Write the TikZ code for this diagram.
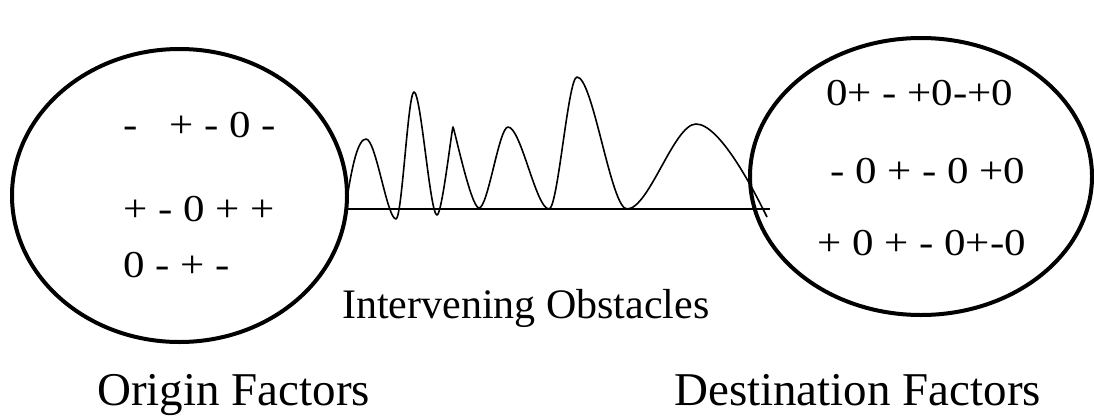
\documentclass[tikz,border=0pt]{standalone}
\usepackage{fontspec}
\setmainfont{Liberation Serif}
\newfontfamily\symfont{Liberation Serif}
\begin{document}
\begin{tikzpicture}[x=1pt,y=-1pt,
  oval/.style={draw=black,line width=4pt},
  wave/.style={draw=black,line width=1.6pt,line join=round},
  base/.style={draw=black,line width=1.6pt},
  inner/.style={anchor=base west,inner sep=0pt,font=\fontsize{38}{40}\selectfont},
  biglabel/.style={anchor=base west,inner sep=0pt,font=\fontsize{47}{50}\selectfont},
  midlabel/.style={anchor=base west,inner sep=0pt,font=\fontsize{42}{45}\selectfont}]
\useasboundingbox (0,0) rectangle (1094,418);
% ellipses
\draw[oval] (179.5,195.5) ellipse [x radius=167.5, y radius=146.5];
\draw[oval] (921,176.5) ellipse [x radius=171, y radius=138.5];
% baseline
\coordinate (bl) at (347,209);
\coordinate (br) at (770,209);
\draw[base] (bl) -- (br);
% wave
\coordinate (w0) at (346,205);
\coordinate (p1) at (366,139);
\coordinate (t1) at (396,219);
\coordinate (p2) at (414,92);
\coordinate (t2) at (437,215);
\coordinate (p3) at (453,127);
\coordinate (t3) at (479,208);
\coordinate (p4) at (508,127);
\coordinate (t4) at (549,209);
\coordinate (p5) at (577,77);
\coordinate (t5) at (627,209);
\coordinate (p6) at (696,124);
\coordinate (w1) at (767,217);
\draw[wave] (w0) .. controls +(6,-40) and +(-8,0) .. (p1)
  .. controls +(10,0) and +(-9,0) .. (t1)
  .. controls +(6,0) and +(-6,0) .. (p2)
  .. controls +(7,0) and +(-7,0) .. (t2)
  .. controls +(5,0) and +(-1,0) .. (p3)
  .. controls +(1,0) and +(-8,0) .. (t3)
  .. controls +(9,0) and +(-9,0) .. (p4)
  .. controls +(13,0) and +(-13,0) .. (t4)
  .. controls +(9,0) and +(-9,0) .. (p5)
  .. controls +(16,0) and +(-16,0) .. (t5)
  .. controls +(22,0) and +(-22,0) .. (p6)
  .. controls +(25,0) and +(-10,-20) .. (w1);
% inner texts left
\node[inner] (l1) at (123,137) {\scalebox{1.13}[1]{\symfont -\ \ \ + - 0 -}};
\node[inner] (l2) at (123,221) {\scalebox{1.13}[1]{\symfont + - 0 + +}};
\node[inner] (l3) at (123,277) {\scalebox{1.13}[1]{\symfont 0 - + -}};
% inner texts right
\node[inner] (r1) at (826,105) {\scalebox{1.13}[1]{\symfont 0+ - +0-+0}};
\node[inner] (r2) at (830,183) {\scalebox{1.13}[1]{\symfont - 0 + - 0 +0}};
\node[inner] (r3) at (817,255) {\scalebox{1.13}[1]{\symfont + 0 + - 0+-0}};
% labels
\node[midlabel] (mid) at (342,318) {Intervening Obstacles};
\node[biglabel] (org) at (97,405) {Origin Factors};
\node[biglabel] (dst) at (674,405) {Destination Factors};
\end{tikzpicture}
\end{document}
